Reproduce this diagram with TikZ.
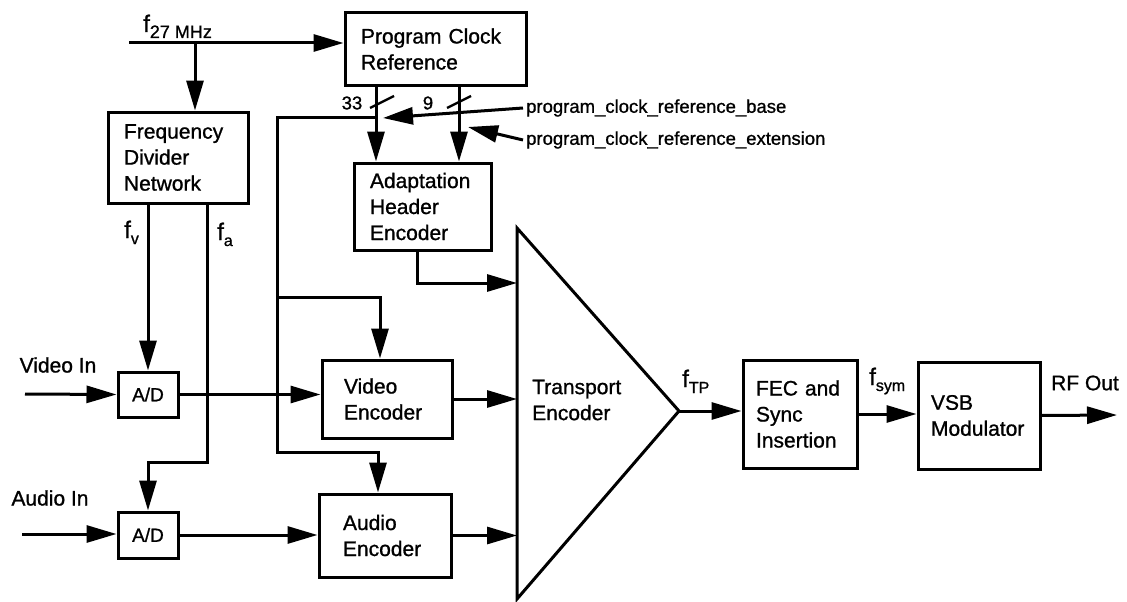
\documentclass[tikz,border=0pt]{standalone}
\usepackage{fontspec}
\setmainfont{Liberation Sans}[FakeBold=1]
\usetikzlibrary{arrows.meta,positioning}
\tikzstyle{block} = [rectangle, draw=black, line width=3pt, fill=none, text=black, align=left, font=\fontsize{21}{26}\selectfont, inner xsep=16pt, inner ysep=0pt]
\tikzstyle{adc} = [rectangle, draw=black, line width=3pt, fill=none, text=black, text centered, font=\fontsize{19}{22}\selectfont, minimum width=60pt, inner sep=0pt]
\tikzstyle{textonly} = [draw=none, fill=none, text=black, font=\fontsize{21}{26}\selectfont, inner sep=2pt]
\tikzstyle{note} = [draw=none, fill=none, text=black, font=\fontsize{18.5}{20}\selectfont, inner sep=3pt]
\tikzstyle{tedge} = [draw, line width=3pt, >={Triangle[length=30pt,width=17pt]}, ->]
\tikzstyle{wire} = [draw, line width=3pt]
\newcommand{\fsig}[2][16]{{\fontsize{24}{24}\selectfont f}\raisebox{-6pt}{\fontsize{#1}{#1}\selectfont #2}}

\begin{document}
\begin{tikzpicture}[x=1pt, y=-1pt]
\useasboundingbox (0,0) rectangle (1127,602);

% blocks =============================
\node[block, text width=149pt, minimum height=72pt] (pcr) at (435.5,49) {Program Clock\\Reference};
\node[block, text width=108pt, minimum height=91pt] (fdn) at (178,157.5) {Frequency\\Divider\\Network};
\node[block, text width=105pt, minimum height=87pt] (ahe) at (422.5,206.5) {Adaptation\\Header\\Encoder};
\node[adc, minimum height=45pt] (ad1) at (148,394.5) {A/D};
\node[adc, minimum height=46pt] (ad2) at (148,535) {A/D};
\node[block, inner xsep=22pt, text width=86pt, minimum height=78pt] (venc) at (387,399) {Video\\Encoder};
\node[block, inner xsep=24pt, text width=84pt, minimum height=83pt] (aenc) at (385,535.5) {Audio\\Encoder};
\node[block, inner xsep=13pt, text width=88pt, minimum height=108pt] (fec) at (800,414) {FEC and\\Sync\\Insertion};
\node[block, inner xsep=13pt, text width=96pt, minimum height=107pt] (vsb) at (979,415.5) {VSB\\Modulator};

% transport encoder
\coordinate (tetop) at (517,228);
\coordinate (tebot) at (517,599);
\coordinate (tetip) at (679,411);
\draw[wire, line join=miter] (tetop) -- (tetip) -- (tebot) -- cycle;
\node[textonly, anchor=west, align=left] (tetext) at (530,400) {Transport\\Encoder};

% labels
\node[textonly, anchor=base west, inner sep=0pt] (f27) at (143,32) {\fsig[18]{27 MHz}};
\node[textonly, anchor=base west, inner sep=0pt] (fv) at (124,238) {\fsig{v}};
\node[textonly, anchor=base west, inner sep=0pt] (fa) at (217,240) {\fsig{a}};
\node[textonly, anchor=base west, inner sep=0pt] (ftp) at (682,387) {\fsig{TP}};
\node[textonly, anchor=base west, inner sep=0pt] (fsym) at (869,385) {\fsig{sym}};
\node[textonly] (vinlbl) at (58,365) {Video In};
\node[textonly] (ainlbl) at (50,498) {Audio In};
\node[textonly] (rflbl) at (1085,383) {RF Out};
\node[note] (n33) at (352,103) {33};
\node[note] (n9) at (428,103) {9};
\node[note, anchor=west] (base) at (523,108) {program\_clock\_reference\_base};
\node[note, anchor=west] (ext) at (523,140) {program\_clock\_reference\_extension};

% points
\coordinate (clk) at (129,43);
\coordinate (clksplit) at (195,43);
\coordinate (vsrc) at (25,394);
\coordinate (asrc) at (22,534);
\coordinate (fabend) at (207,462);
\coordinate (b33) at (376,117);
\coordinate (b9) at (459,117);
\coordinate (vtap) at (277,297);
\coordinate (abus) at (277,452);
\coordinate (ahein) at (517,283);
\coordinate (basetip) at (383,118);
\coordinate (exttip) at (468,127);
\coordinate (rfout) at (1117,415);

% edges
\path[tedge] (clk) -- (clk -| pcr.west);
\path[tedge] (clksplit) -- (clksplit |- fdn.north);
\path[tedge] (ad1.north |- fdn.south) -- (ad1.north);
\path[tedge] (fabend |- fdn.south) -- (fabend) -| (ad2.north);
\path[tedge] (vsrc) -- (ad1.west);
\path[tedge] (asrc) -- (asrc -| ad2.west);
\path[tedge] (ad1.east) -- (ad1.east -| venc.west);
\path[tedge] (ad2.east) -- (ad2.east -| aenc.west);
\path[tedge] (venc.east) -- (venc.east -| tetop);
\path[tedge] (aenc.east) -- (aenc.east -| tetop);
\path[tedge] ([xshift=-5pt]ahe.south) |- (ahein);
\path[tedge] (b33 |- pcr.south) -- (b33 |- ahe.north);
\path[tedge] (b9 |- pcr.south) -- (b9 |- ahe.north);
\path[tedge] (b33) -| (abus) -| ([xshift=-7pt]aenc.north);
\path[tedge] (vtap) -| ([xshift=-7pt]venc.north);
\path[tedge] (base.west) -- (basetip);
\path[tedge] (ext.west) -- (exttip);
\path[tedge] (tetip) -- (tetip -| fec.west);
\path[tedge] (fec.east) -- (fec.east -| vsb.west);
\path[tedge] (vsb.east) -- (rfout);

% bus width marks
\draw[wire, line width=2.4pt] (370,108) -- (394,96);
\draw[wire, line width=2.4pt] (447,108) -- (471,96);

\end{tikzpicture}
\end{document}
